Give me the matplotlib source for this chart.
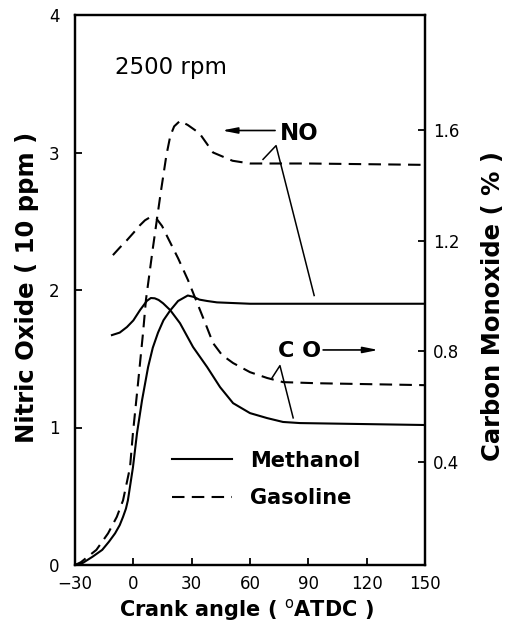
import numpy as np
import matplotlib
matplotlib.use('Agg')
import matplotlib.pyplot as plt

# Datos (angulo de ciguenal en grados ATDC)
# NO en unidades del eje izquierdo, CO en % (eje derecho)
x_no_gas = [-30, -27, -19, -13, -8.5, -5.3, -1.7, -0.2, 2.4, 5, 6.5, 10, 14, 17,
            19, 21, 24, 28, 34, 41, 51, 60, 90, 150]
no_gas = [0.0, 0.02, 0.11, 0.23, 0.35, 0.47, 0.71, 0.96, 1.32, 1.69, 1.93, 2.30,
          2.70, 2.98, 3.12, 3.19, 3.23, 3.20, 3.14, 3.00, 2.94, 2.92, 2.92, 2.91]

x_no_met = [-30, -26, -21, -16, -12.5, -9.4, -7, -5.3, -3.8, -2.8, -1.5, -0.2,
            1.9, 4.5, 7.6, 10, 12.7, 15.5, 18.9, 23, 28, 31, 34, 38, 43, 60, 150]
no_met = [0.0, 0.015, 0.06, 0.11, 0.17, 0.23, 0.29, 0.35, 0.41, 0.47, 0.59, 0.71,
          0.96, 1.20, 1.44, 1.58, 1.69, 1.78, 1.85, 1.92, 1.96, 1.95, 1.93, 1.92,
          1.91, 1.90, 1.90]

x_co_gas = [-10.5, -7, -3.3, 0, 3.4, 6, 8.6, 11.7, 14.8, 17.8, 23, 28.1, 33.3,
            37.4, 41, 45.6, 51.3, 60, 68.8, 77, 94.5, 150]
co_gas = [1.148, 1.175, 1.202, 1.228, 1.256, 1.274, 1.285, 1.282, 1.253, 1.210,
          1.137, 1.058, 0.967, 0.895, 0.830, 0.787, 0.758, 0.725, 0.704, 0.689,
          0.685, 0.678]

x_co_met = [-11, -7, -3.3, 0, 3.5, 7, 9, 11, 13, 15.3, 19, 24, 30.7, 38, 44.6,
            51.3, 60, 68.8, 77, 85.7, 150]
co_met = [0.859, 0.868, 0.888, 0.912, 0.950, 0.983, 0.993, 0.992, 0.986, 0.974,
          0.949, 0.902, 0.816, 0.743, 0.671, 0.613, 0.577, 0.559, 0.545, 0.541,
          0.534]

x_ticks = [-30, 0, 30, 60, 90, 120, 150]
y_ticks_izq = [0, 1, 2, 3, 4]
y_ticks_der = [0.4, 0.8, 1.2, 1.6]

# Lineas guia de las etiquetas (coordenadas del eje izquierdo)
guia_no = ([66.7, 73.4, 93.0], [2.95, 3.05, 1.96])
guia_co = ([71.3, 75.4, 82.2], [1.36, 1.45, 1.07])

plt.rcParams['font.family'] = 'DejaVu Sans'

fig = plt.figure(figsize=(5.12, 6.25), dpi=100)
ax = fig.add_axes([75 / 512, 1 - 565 / 625, 350 / 512, 550 / 625])
ax2 = ax.twinx()

lw = 1.5
dash = (0, (6, 3.5))

l_met, = ax.plot(x_no_met, no_met, color='black', lw=lw, label='Methanol')
l_gas, = ax.plot(x_no_gas, no_gas, color='black', lw=lw, linestyle=dash,
                 label='Gasoline')
ax2.plot(x_co_met, co_met, color='black', lw=lw)
ax2.plot(x_co_gas, co_gas, color='black', lw=lw, linestyle=dash)

ax.set_xlim(-30, 150)
ax.set_ylim(0, 4)
ax2.set_ylim(0.028, 2.016)

ax.set_xticks(x_ticks)
ax.set_yticks(y_ticks_izq)
ax2.set_yticks(y_ticks_der)
ax2.set_yticklabels([f'{v:.1f}' for v in y_ticks_der])

ax.tick_params(axis='both', direction='in', length=5, width=1.3, labelsize=12,
               top=False, right=False)
ax.tick_params(axis='x', pad=7)
ax.tick_params(axis='y', pad=11)
ax2.tick_params(axis='y', direction='in', length=5, width=1.3, labelsize=12,
                pad=6)

for a in (ax, ax2):
    for s in a.spines.values():
        s.set_linewidth(1.6)

# Etiquetas de ejes
ax.set_xlabel('Crank angle ( $^{\\mathrm{o}}$ATDC )', fontsize=15, weight='bold',
              va='center')
ax.xaxis.set_label_coords(0.49, -0.082)
ax.set_ylabel('Nitric Oxide ( 10 ppm )', fontsize=17.5, weight='bold',
              va='center')
ax.yaxis.set_label_coords(-0.137, 0.505)
ax2.set_ylabel('Carbon Monoxide ( % )', fontsize=17.5, weight='bold', va='center',
               rotation=90)
ax2.yaxis.set_label_coords(1.194, 0.471)

# Textos
ax.text(-9.4, 3.62, '2500 rpm', fontsize=16.5, va='center', ha='left')
ax.text(75.4, 3.14, 'NO', fontsize=16.5, weight='bold', va='center', ha='left')
ax.text(74.4, 1.556, 'C O', fontsize=16, weight='bold', va='center', ha='left')

# Flechas
ax.annotate('', xy=(45.6, 3.16), xytext=(72.9, 3.16),
            arrowprops=dict(arrowstyle='-|>,head_length=0.9,head_width=0.18',
                            color='black', lw=1.2, shrinkA=0, shrinkB=0))
ax.annotate('', xy=(126, 1.564), xytext=(97.6, 1.564),
            arrowprops=dict(arrowstyle='-|>,head_length=0.9,head_width=0.18',
                            color='black', lw=1.2, shrinkA=0, shrinkB=0))

ax.plot(*guia_no, color='black', lw=1.1)
ax.plot(*guia_co, color='black', lw=1.1)

# Leyenda
ax.legend(handles=[l_met, l_gas], loc='upper left',
          bbox_to_anchor=(0.277, 0.208), frameon=False,
          prop={'weight': 'bold', 'size': 15}, handlelength=2.9,
          handletextpad=0.85, labelspacing=0.85, borderpad=0, borderaxespad=0)

fig.savefig('out.png', dpi=100)
